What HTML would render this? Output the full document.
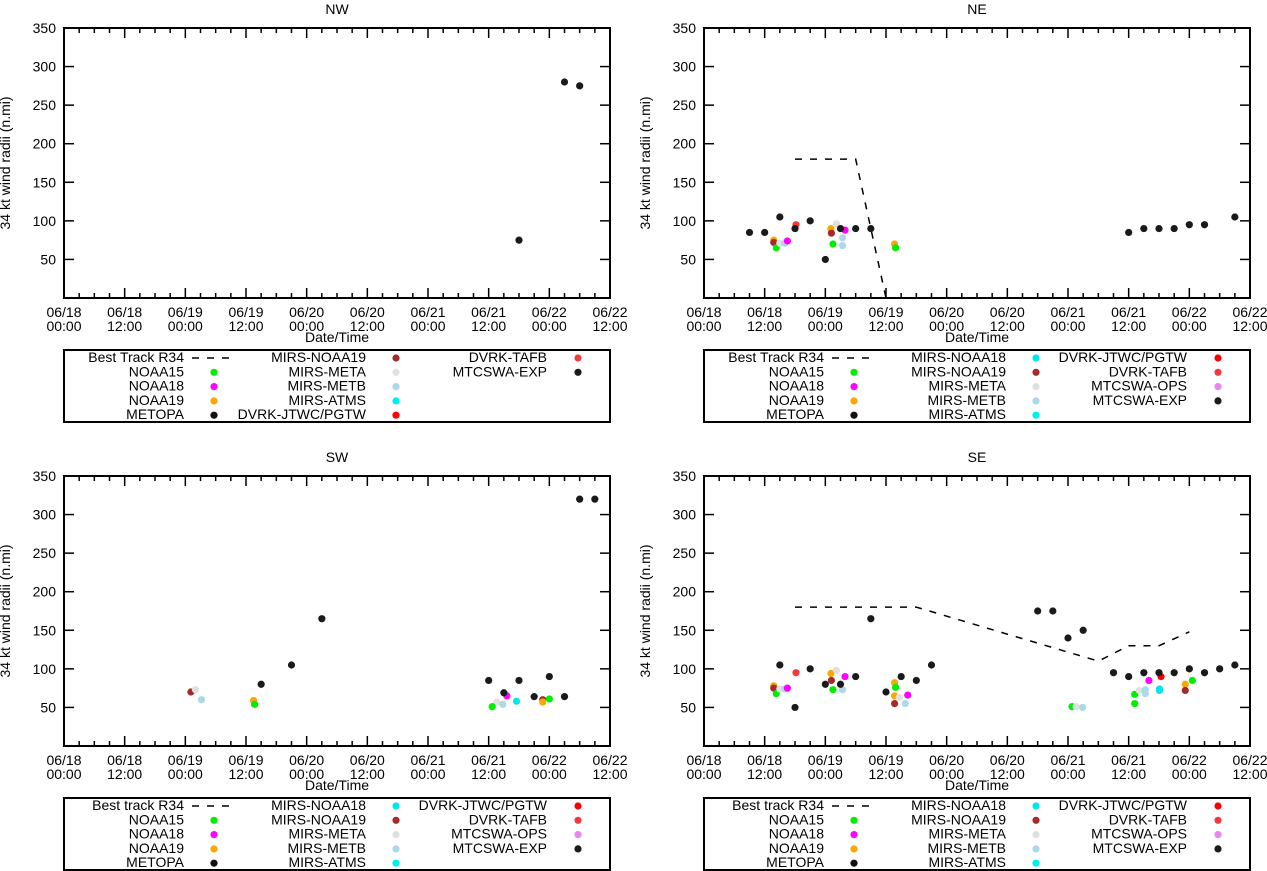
<!DOCTYPE html>
<html><head><meta charset="utf-8"><style>
body{margin:0;background:#fff}
svg{display:block;font-family:"Liberation Sans",sans-serif}
text{font-size:14px;fill:#000}
</style></head><body>
<svg id="c" width="1267" height="871" viewBox="0 0 1267 871"></svg>
<script>
// ---- data (hours since 06/18 00:00, radii n.mi) ----
const xTickLabels1=["06/18","06/18","06/19","06/19","06/20","06/20","06/21","06/21","06/22","06/22"];
const xTickLabels2=["00:00","12:00","00:00","12:00","00:00","12:00","00:00","12:00","00:00","12:00"];
const yTicks=[50,100,150,200,250,300,350];

const nwExpT=[90,99,102]; const nwExpV=[75,280,275];

const neBestT=[18,24,30,36]; const neBestV=[180,180,180,0];
const neExpT=[9,12,15,18,21,24,27,30,33,84,87,90,93,96,99,105];
const neExpV=[85,85,105,90,100,50,90,90,90,85,90,90,90,95,95,105];
const neN19T=[13.8,25.1,37.7]; const neN19V=[75,90,70];
const neMN19T=[13.8,25.2]; const neMN19V=[72,84];
const neN15T=[14.3,25.5,37.9]; const neN15V=[65,70,65];
const neMetaT=[15,26.2]; const neMetaV=[71,96];
const neMetbT=[16,27.4,27.4]; const neMetbV=[71,78,68];
const neN18T=[16.5,27.9]; const neN18V=[74,88];
const neTafbT=[18.2]; const neTafbV=[95];

const swExpT=[39,45,51,84,87,90,93,96,99,102,105];
const swExpV=[80,105,165,85,69,85,64,90,64,320,320];
const swMN19T=[25.1,94.7]; const swMN19V=[70,60];
const swMetaT=[26,85.6]; const swMetaV=[73,57];
const swMetbT=[27.2,86.8]; const swMetbV=[60,54];
const swN19T=[37.5,94.7]; const swN19V=[59,57];
const swN15T=[37.7,84.7,96]; const swN15V=[54,51,61];
const swN18T=[87.6]; const swN18V=[65];
const swMN18T=[89.5]; const swMN18V=[58];

const seBestT=[18,42,78,84,90,96]; const seBestV=[180,180,110,130,130,148];
const seExpT=[15,18,21,24,27,30,33,36,39,42,45,66,69,72,75,81,84,87,90,93,96,99,102,105];
const seExpV=[105,50,100,80,80,90,165,70,90,85,105,175,175,140,150,95,90,95,95,95,100,95,100,105];
const seN19T=[13.8,25.1,37.7,37.7,95.2]; const seN19V=[78,94,82,65,80];
const seMN19T=[13.8,25.2,37.7,95.2]; const seMN19V=[75,85,55,72];
const seN15T=[14.3,25.5,37.9,72.8,85.2,85.2,96.6]; const seN15V=[68,73,76,51,67,55,85];
const seMetaT=[15,26.2,38.6,73.6,86.1]; const seMetaV=[74,98,63,51,72];
const seMetbT=[16,27.4,39.8,74.9,87.3,87.3]; const seMetbV=[74,73,55,50,73,68];
const seN18T=[16.5,27.9,40.3,88]; const seN18V=[75,90,66,85];
const seMN18T=[90.1,90.1]; const seMN18V=[74,72];
const seJtwcT=[90.4]; const seJtwcV=[90];
const seTafbT=[18.2]; const seTafbV=[95];

const C={N15:"#00ee00",N18:"#ff00ff",N19:"#ffa500",MET:"#111",MN18:"#00e5ee",MN19:"#a52a2a",META:"#e0e0e0",METB:"#add8e6",ATMS:"#00f0f0",JTWC:"#ff0000",TAFB:"#f03c3c",OPS:"#ee82ee",EXP:"#1a1a1a"};

const svg=document.getElementById('c');
const NS="http://www.w3.org/2000/svg";
function mk(tag,attrs,parent){const e=document.createElementNS(NS,tag);for(const k in attrs)e.setAttribute(k,attrs[k]);(parent||svg).appendChild(e);return e;}

function panel(name,title,L,R,T,B,legendCols,legX,dashX,legTop,legBot,series,best){
  const g=mk('g',{});
  
  
  const xs=t=>L+(R-L)*t/108, ys=v=>B-(B-T)*v/350;
  const tt=mk('text',{x:(L+R)/2,y:T-14,'text-anchor':'middle'},g);tt.textContent=title;
  
  
  for(let h=0;h<=108;h+=3){const x=xs(h);const len=h%12==0?10:5;
    mk('line',{x1:x,x2:x,y1:B,y2:B-len,stroke:'#000','stroke-width':1.5},g);
    mk('line',{x1:x,x2:x,y1:T,y2:T+len,stroke:'#000','stroke-width':1.5},g);}
  xTickLabels1.forEach((s,i)=>{const x=xs(i*12);
    const a=mk('text',{x:x,y:B+19,'text-anchor':'middle'},g);a.textContent=s;
    
    
    const b=mk('text',{x:x,y:B+33,'text-anchor':'middle'},g);b.textContent=xTickLabels2[i];
    
    });
  yTicks.forEach(v=>{const y=ys(v);
    mk('line',{x1:L,x2:L+10,y1:y,y2:y,stroke:'#000','stroke-width':1.5},g);
    mk('line',{x1:R,x2:R-10,y1:y,y2:y,stroke:'#000','stroke-width':1.5},g);
    const t=mk('text',{x:L-8,y:y+5,'text-anchor':'end'},g);t.textContent=v;
    
    });
  mk('rect',{x:L,y:T,width:R-L,height:B-T,fill:'none',stroke:'#000','stroke-width':2},g);
  const xt=mk('text',{x:(L+R)/2,y:B+44,'text-anchor':'middle'},g);xt.textContent="Date/Time";
  
  
  const yx=L-54,yy=(T+B)/2;
  const yt=mk('text',{x:yx,y:yy,'text-anchor':'middle',transform:`rotate(-90 ${yx} ${yy})`},g);yt.textContent="34 kt wind radii (n.mi)";
  
  
  if(best){const pts=best[0].map((t,i)=>xs(t)+','+ys(best[1][i])).join(' ');
    const pl=mk('polyline',{points:pts,fill:'none',stroke:'#000','stroke-width':1.5,'stroke-dasharray':'7,8'},g);
    
    }
  series.forEach(s=>{s[1].forEach((t,i)=>{
    const c=mk('circle',{cx:xs(t),cy:ys(s[2][i]),r:3.6,fill:C[s[0]]},g);
    
    });});
  const lb=mk('rect',{x:L,y:legTop,width:R-L,height:legBot-legTop,fill:'none',stroke:'#000','stroke-width':2},g);
  
  
  legendCols.forEach((col,ci)=>{col.forEach((en,ri)=>{const y=legTop+7+ri*14.3;
    const t=mk('text',{x:legX[ci*2],y:y+5,'text-anchor':'end'},g);t.textContent=en[0];
    
    
    if(en[1]==='dash'){const l=mk('line',{x1:dashX[0],x2:dashX[1],y1:y+1,y2:y+1,stroke:'#000','stroke-width':1.5,'stroke-dasharray':'7,8'},g);
      
      }
    else{const c=mk('circle',{cx:legX[ci*2+1],cy:y+1,r:3.6,fill:C[en[1]]},g);
      
      }
  });});
}
const col1=b=>[[b,'dash'],["NOAA15","N15"],["NOAA18","N18"],["NOAA19","N19"],["METOPA","MET"]];
const colM=[["MIRS-NOAA18","MN18"],["MIRS-NOAA19","MN19"],["MIRS-META","META"],["MIRS-METB","METB"],["MIRS-ATMS","ATMS"]];
const colD=[["DVRK-JTWC/PGTW","JTWC"],["DVRK-TAFB","TAFB"],["MTCSWA-OPS","OPS"],["MTCSWA-EXP","EXP"]];
const lx=[184,214,366,396,547,578], rx=[824,854,1006,1036,1187,1218];

panel('nw','NW',64,610,28,298,
 [col1("Best Track R34"),[["MIRS-NOAA19","MN19"],["MIRS-META","META"],["MIRS-METB","METB"],["MIRS-ATMS","ATMS"],["DVRK-JTWC/PGTW","JTWC"]],[["DVRK-TAFB","TAFB"],["MTCSWA-EXP","EXP"]]],
 lx,[192,229],350,422,[["EXP",nwExpT,nwExpV]],null);
panel('ne','NE',704,1250,28,298,[col1("Best Track R34"),colM,colD],rx,[832,869],350,422,
 [["N19",neN19T,neN19V],["MN19",neMN19T,neMN19V],["N15",neN15T,neN15V],["META",neMetaT,neMetaV],["METB",neMetbT,neMetbV],["N18",neN18T,neN18V],["TAFB",neTafbT,neTafbV],["EXP",neExpT,neExpV]],[neBestT,neBestV]);
panel('sw','SW',64,610,476,746,[col1("Best track R34"),colM,colD],lx,[192,229],798,870,
 [["MN19",swMN19T,swMN19V],["META",swMetaT,swMetaV],["METB",swMetbT,swMetbV],["N19",swN19T,swN19V],["N15",swN15T,swN15V],["N18",swN18T,swN18V],["MN18",swMN18T,swMN18V],["EXP",swExpT,swExpV]],null);
panel('se','SE',704,1250,476,746,[col1("Best track R34"),colM,colD],rx,[832,869],798,870,
 [["N19",seN19T,seN19V],["MN19",seMN19T,seMN19V],["N15",seN15T,seN15V],["META",seMetaT,seMetaV],["METB",seMetbT,seMetbV],["N18",seN18T,seN18V],["MN18",seMN18T,seMN18V],["JTWC",seJtwcT,seJtwcV],["TAFB",seTafbT,seTafbV],["EXP",seExpT,seExpV]],[seBestT,seBestV]);
</script>
</body></html>
